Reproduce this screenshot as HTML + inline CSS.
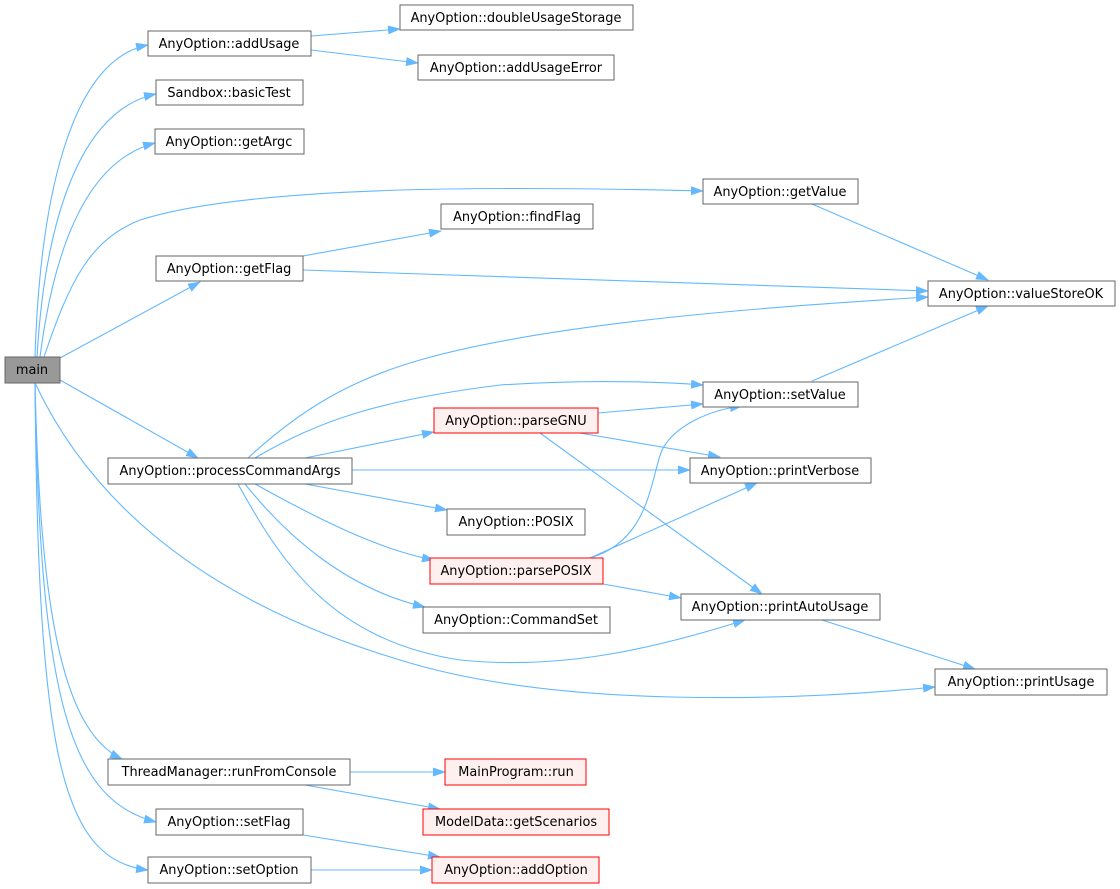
<!DOCTYPE html>
<html><head><meta charset="utf-8"><style>
html,body{margin:0;padding:0;background:#fff;width:1120px;height:889px;overflow:hidden}
svg text{font-family:"DejaVu Sans","Liberation Sans",sans-serif;font-size:12.9px;fill:#000}
</style></head><body>
<svg width="1120" height="889" xmlns="http://www.w3.org/2000/svg">
<defs><marker id="a" markerWidth="13" markerHeight="9" refX="12" refY="4.5" orient="auto" markerUnits="userSpaceOnUse"><path d="M0,0 L13,4.5 L0,9 z" fill="#63b8ff"/></marker></defs>
<g fill="none" stroke="#63b8ff" stroke-width="1.1" marker-end="url(#a)">
<path d="M35,357 C40,200 70,60 148,45"/>
<path d="M37,357 C45,220 80,110 156,94"/>
<path d="M40,357 C55,240 90,160 155,143"/>
<path d="M44,357 C70,280 90,240 140,220 C250,185 500,186 703,191"/>
<path d="M60,358 L200,282"/>
<path d="M60,380 L198,458"/>
<path d="M35,383 C90,500 200,600 400,660 C560,710 800,700 935,687"/>
<path d="M35,383 C40,600 60,730 122,759"/>
<path d="M35,383 C40,700 70,800 156,822"/>
<path d="M35,383 C38,750 60,860 148,870"/>
<path d="M311,36 L400,29"/>
<path d="M311,50 L418,63"/>
<path d="M303,256 L441,231"/>
<path d="M303,270 L928,291"/>
<path d="M812,204 L988,280"/>
<path d="M812,381 L988,306"/>
<path d="M248,458 C300,410 350,380 420,360 C560,320 800,305 928,297"/>
<path d="M255,458 C320,420 380,400 500,385 C580,380 650,381 703,385"/>
<path d="M305,458 L434,432"/>
<path d="M352,470 L690,470"/>
<path d="M305,484 L447,510"/>
<path d="M255,484 C320,520 380,550 434,560"/>
<path d="M245,484 C290,540 350,590 425,607"/>
<path d="M238,484 C280,560 330,640 460,660 C560,670 650,650 745,620"/>
<path d="M598,413 L703,404"/>
<path d="M580,433 L720,457"/>
<path d="M540,433 L762,594"/>
<path d="M590,558 C650,540 650,480 662,450 C675,425 710,410 742,406"/>
<path d="M590,558 L757,483"/>
<path d="M603,584 L681,598"/>
<path d="M822,620 L975,669"/>
<path d="M350,772 L445,772"/>
<path d="M305,785 L440,809"/>
<path d="M303,835 L440,857"/>
<path d="M311,870 L432,870"/>
</g>
<g stroke="#666" stroke-width="1" fill="#fff">
<rect x="5" y="357" width="55" height="26" fill="#999"/>
<rect x="148" y="31" width="163" height="25"/>
<rect x="156" y="80" width="147" height="25"/>
<rect x="155" y="129" width="149" height="25"/>
<rect x="156" y="256" width="147" height="25"/>
<rect x="108" y="458" width="244" height="26"/>
<rect x="400" y="5" width="233" height="25"/>
<rect x="418" y="55" width="196" height="25"/>
<rect x="703" y="179" width="155" height="25"/>
<rect x="441" y="204" width="152" height="25"/>
<rect x="928" y="281" width="187" height="25"/>
<rect x="703" y="382" width="155" height="25"/>
<rect x="690" y="458" width="181" height="25"/>
<rect x="447" y="509" width="138" height="26"/>
<rect x="423" y="607" width="187" height="26"/>
<rect x="681" y="594" width="199" height="26"/>
<rect x="935" y="669" width="172" height="26"/>
<rect x="108" y="759" width="242" height="26"/>
<rect x="156" y="809" width="147" height="26"/>
<rect x="148" y="857" width="163" height="26"/>
</g>
<g stroke="#f00" stroke-width="1" fill="#fff0f0">
<rect x="434" y="408" width="164" height="25"/>
<rect x="430" y="558" width="173" height="26"/>
<rect x="445" y="759" width="141" height="26"/>
<rect x="423" y="809" width="186" height="26"/>
<rect x="432" y="857" width="167" height="26"/>
</g>
<g text-anchor="middle">
<text x="32" y="374">main</text>
<text x="229" y="48">AnyOption::addUsage</text>
<text x="229" y="97">Sandbox::basicTest</text>
<text x="229" y="146">AnyOption::getArgc</text>
<text x="229" y="273">AnyOption::getFlag</text>
<text x="230" y="475">AnyOption::processCommandArgs</text>
<text x="516" y="22">AnyOption::doubleUsageStorage</text>
<text x="516" y="72">AnyOption::addUsageError</text>
<text x="780" y="196">AnyOption::getValue</text>
<text x="517" y="221">AnyOption::findFlag</text>
<text x="1021" y="298">AnyOption::valueStoreOK</text>
<text x="780" y="399">AnyOption::setValue</text>
<text x="780" y="475">AnyOption::printVerbose</text>
<text x="516" y="526">AnyOption::POSIX</text>
<text x="516" y="624">AnyOption::CommandSet</text>
<text x="780" y="611">AnyOption::printAutoUsage</text>
<text x="1021" y="686">AnyOption::printUsage</text>
<text x="229" y="776">ThreadManager::runFromConsole</text>
<text x="229" y="826">AnyOption::setFlag</text>
<text x="229" y="874">AnyOption::setOption</text>
<text x="516" y="425">AnyOption::parseGNU</text>
<text x="516" y="575">AnyOption::parsePOSIX</text>
<text x="516" y="776">MainProgram::run</text>
<text x="516" y="826">ModelData::getScenarios</text>
<text x="516" y="874">AnyOption::addOption</text>
</g>
</svg>
</body></html>
